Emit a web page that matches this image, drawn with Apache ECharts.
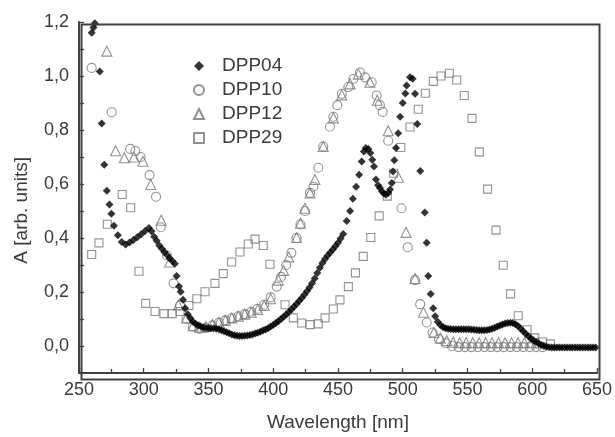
<!DOCTYPE html>
<html>
<head>
<meta charset="utf-8">
<script src="https://cdn.jsdelivr.net/npm/echarts@6/dist/echarts.min.js"></script>
<style>
  html, body { margin: 0; padding: 0; background: #fff; }
  #chart { width: 615px; height: 437px; }
</style>
</head>
<body>
<div id="chart"></div>
<script>
// Absorption spectra, wavelength in nm and absorbance in arbitrary units
const seriesNames = ['DPP04', 'DPP10', 'DPP12', 'DPP29'];

const dpp04Wl = [259.8, 261.2, 262.2, 266, 267.5, 269.5, 271.5, 273.5, 275,
  277, 280, 283, 286, 289, 292, 295, 298, 301, 304, 306, 308, 310, 312, 314, 316, 318, 320, 322, 324,
  325.4, 327.2, 328.5, 330.3,
  332, 334, 336, 338, 340, 342, 344, 346, 348, 350, 352, 354, 356, 358, 360, 362, 364, 366, 368, 370,
  372, 374, 376, 378, 380, 382, 384, 386, 388, 390, 392, 394, 396, 398, 400, 402, 404, 406, 408, 410,
  412, 414, 416, 418, 420, 422, 424, 426, 428, 430, 432, 434, 436, 438, 440, 442, 444, 446, 448, 450,
  452, 454,
  456.7, 459.3, 461.5, 464, 466.3, 468.3, 470, 471.5, 473.4, 475, 476.5, 477.8, 479.3, 481, 482.4, 484,
  485.5, 487, 488.8, 490.2, 491.5, 492.5, 493.5, 494.8, 496.5, 498, 500, 502, 503, 505.6, 507.7, 509.5,
  511.2, 513.5, 517, 518.5, 519.7, 521.6, 523.5,
  525, 527, 529, 531, 533, 535, 537, 539, 541, 543, 545, 547, 549, 551, 553, 555, 557, 559, 561, 563,
  565, 567, 569, 571, 573, 575, 577, 579, 581, 583, 585, 587, 589, 591, 593, 595, 597, 599, 601, 603,
  605, 607, 609, 611, 613, 615, 617, 619, 621, 623, 625, 627, 629, 631, 633, 635, 637, 639, 641, 643,
  645, 647, 649];
const dpp04Abs = [1.16, 1.18, 1.195, 1.017, 0.824, 0.671, 0.575, 0.524, 0.49,
  0.445, 0.41, 0.385, 0.376, 0.383, 0.393, 0.403, 0.414, 0.426, 0.437, 0.425, 0.405, 0.39, 0.372, 0.36, 0.348, 0.337, 0.325, 0.315, 0.305,
  0.259, 0.22, 0.201, 0.171,
  0.14, 0.118, 0.103, 0.09, 0.082, 0.076, 0.072, 0.069, 0.067, 0.066, 0.066, 0.066, 0.064, 0.062, 0.058, 0.055, 0.051, 0.047, 0.043, 0.04,
  0.038, 0.037, 0.037, 0.038, 0.039, 0.041, 0.043, 0.046, 0.049, 0.053, 0.057, 0.061, 0.066, 0.072, 0.078, 0.085, 0.092, 0.1, 0.108, 0.117,
  0.126, 0.135, 0.145, 0.156, 0.167, 0.178, 0.19, 0.203, 0.217, 0.232, 0.25, 0.27, 0.29, 0.307, 0.322, 0.335, 0.346, 0.357, 0.369, 0.382,
  0.398, 0.415,
  0.463, 0.5, 0.545, 0.59, 0.634, 0.683, 0.72, 0.733, 0.73, 0.715, 0.69, 0.665, 0.617, 0.595, 0.585, 0.572,
  0.565, 0.56, 0.567, 0.58, 0.604, 0.646, 0.688, 0.733, 0.788, 0.849, 0.9, 0.935, 0.965, 0.995, 0.99, 0.934,
  0.822, 0.648, 0.494, 0.382, 0.259, 0.193, 0.14,
  0.11, 0.09, 0.078, 0.07, 0.066, 0.064, 0.063, 0.062, 0.062, 0.062, 0.062, 0.062, 0.062, 0.062, 0.061, 0.06, 0.059, 0.058, 0.058, 0.058,
  0.059, 0.061, 0.064, 0.068, 0.072, 0.076, 0.08, 0.083, 0.085, 0.086, 0.085, 0.081, 0.074, 0.065, 0.055, 0.045, 0.036, 0.028, 0.021, 0.015,
  0.009, 0.004, 0.0, -0.003, -0.005, -0.006, -0.006, -0.006, -0.006, -0.006, -0.006, -0.006, -0.006, -0.006, -0.006, -0.006, -0.006, -0.006, -0.006, -0.006,
  -0.006, -0.006, -0.006];

const dpp10Wl = [259.8, 275.2, 289.5, 293.5, 297.6, 304.5, 309.5, 313.1, 318, 323, 328, 333, 338, 343, 348,
  353, 358, 363, 368, 373, 378, 383, 388, 393, 398, 402.7, 406, 410, 414, 418, 421, 424.5, 428.4, 431,
  434.8, 438.6, 443.8, 446.4, 449.5, 452.9, 458, 461.8, 467, 470.9, 476, 479.9, 482.4, 484.5, 488.8,
  499, 503.8, 509.5, 513.5, 518.5, 523, 528, 533, 538, 543, 548, 553, 558, 563, 568, 573, 578, 583,
  588, 593, 598, 603, 608];
const dpp10Abs = [1.03, 0.866, 0.73, 0.722, 0.7, 0.633, 0.553, 0.44, 0.335, 0.232, 0.15, 0.1, 0.072, 0.063, 0.066,
  0.076, 0.086, 0.095, 0.103, 0.11, 0.118, 0.127, 0.138, 0.153, 0.18, 0.22, 0.256, 0.3, 0.345, 0.4, 0.45, 0.5, 0.567, 0.59,
  0.66, 0.739, 0.812, 0.849, 0.892, 0.934, 0.959, 0.989, 1.013, 0.995, 0.977, 0.928, 0.892, 0.867, 0.76,
  0.51, 0.366, 0.244, 0.155, 0.087, 0.05, 0.025, 0.01, 0.0, -0.004, -0.004, -0.004, -0.004, -0.004, -0.004, -0.004, -0.004, -0.004,
  -0.004, -0.004, -0.004, -0.004, -0.004];

const dpp12Wl = [271.5, 278.3, 285, 292.5, 299.4, 305.4, 313.5, 320, 326.7, 333, 338, 343, 348, 353, 358,
  363, 368, 373, 378, 383, 388, 393, 398, 403.9, 408, 412, 418, 421, 424.5, 428.4, 432.2, 438.6, 446.4,
  452.9, 459.3, 465.7, 474.7, 480.3, 488.8, 496.6, 502.5, 509.5, 516, 524, 529, 534, 539, 544, 549, 554,
  559, 564, 569, 574, 579, 584, 589, 594, 599, 604];
const dpp12Abs = [1.092, 0.723, 0.697, 0.7, 0.684, 0.598, 0.466, 0.311, 0.152, 0.104, 0.075, 0.07, 0.072, 0.08, 0.088,
  0.095, 0.104, 0.11, 0.118, 0.125, 0.135, 0.15, 0.175, 0.244, 0.28, 0.33, 0.402, 0.455, 0.51, 0.567, 0.617, 0.739, 0.845,
  0.93, 0.971, 1.007, 0.977, 0.91, 0.797, 0.625, 0.421, 0.25, 0.125, 0.05, 0.03, 0.02, 0.014, 0.012, 0.012, 0.012,
  0.012, 0.012, 0.012, 0.012, 0.012, 0.012, 0.012, 0.012, 0.012, 0.012];

const dpp29Wl = [259.8, 265.4, 271.9, 283.4, 289.9, 296.3, 301.5, 308.7, 315.6, 322, 328, 334.9, 341, 347.3,
  355, 361.4, 367.9, 374.3, 380.7, 385.9, 392.3, 397.5, 409.1, 415.5, 422, 428.4, 434.8, 440, 446.4, 451.5,
  458, 463.5, 469.5, 475.3, 481.8, 488, 493, 498.5, 505.6, 512, 517.5, 523.6, 529.5, 536, 541.7, 547.5,
  553.5, 559.1, 565.5, 572, 577.6, 583.3, 589.2, 596, 602, 608, 614];
const dpp29Abs = [0.339, 0.382, 0.451, 0.561, 0.512, 0.277, 0.158, 0.128, 0.12, 0.12, 0.128, 0.15, 0.175, 0.201,
  0.232, 0.268, 0.311, 0.348, 0.378, 0.396, 0.372, 0.303, 0.153, 0.104, 0.085, 0.079, 0.082, 0.104, 0.137, 0.171,
  0.22, 0.271, 0.332, 0.402, 0.482, 0.555, 0.64, 0.735, 0.811, 0.877, 0.936, 0.98, 1.0, 1.01, 0.985, 0.928,
  0.843, 0.719, 0.581, 0.429, 0.299, 0.193, 0.112, 0.06, 0.03, 0.015, 0.008];

const xRange = [250, 650];
const yRange = [-0.1, 1.2];

const zip = (xs, ys) => xs.map((x, i) => [x, ys[i]]);

const fontFamily = '"Liberation Sans", Arial, sans-serif';
const textColor = '#3a3a3a';
const lineColor = '#404040';
const openColor = '#777';

const W = 615, H = 437;
const gridBox = { left: 79, right: 18, top: 22, bottom: 60 };

const chart = echarts.init(document.getElementById('chart'), null, { renderer: 'canvas', width: W, height: H });

const openStyle = { color: 'rgba(255,255,255,0)', borderColor: openColor, borderWidth: 1.1 };

chart.setOption({
  animation: false,
  backgroundColor: '#fff',
  grid: gridBox,
  legend: {
    data: seriesNames,
    orient: 'vertical',
    left: 188, top: 51,
    itemWidth: 10, itemHeight: 10, itemGap: 4,
    textStyle: { fontFamily, fontSize: 19, color: textColor, lineHeight: 20, padding: [0, 0, 0, 13] },
    selectedMode: false
  },
  xAxis: {
    type: 'value',
    min: xRange[0], max: xRange[1], interval: 50,
    name: 'Wavelength [nm]', nameLocation: 'middle', nameGap: 40,
    nameTextStyle: { fontFamily, fontSize: 19, color: textColor },
    axisLine: { show: true, onZero: false, lineStyle: { color: lineColor, width: 2 } },
    axisTick: { show: true, inside: true, length: 5, lineStyle: { color: lineColor, width: 1.3 } },
    minorTick: { show: true, splitNumber: 2, length: 4, lineStyle: { color: lineColor, width: 1.3 } },
    axisLabel: { fontFamily, fontSize: 18, color: textColor, margin: 8 },
    splitLine: { show: false }
  },
  yAxis: {
    type: 'value',
    min: yRange[0], max: yRange[1], interval: 0.1,
    axisLine: { show: true, onZero: false, lineStyle: { color: lineColor, width: 2 } },
    axisTick: { show: true, inside: true, length: 5, lineStyle: { color: lineColor, width: 1.3 } },
    axisLabel: {
      fontFamily, fontSize: 18, color: textColor, margin: 10,
      formatter: (v) => {
        const k = Math.round(v * 10);
        return (k >= 0 && k % 2 === 0) ? (k / 10).toFixed(1).replace('.', ',') : '';
      }
    },
    splitLine: { show: false }
  },
  graphic: [{
    // plot frame around the grid area
    type: 'rect',
    z: 100,
    silent: true,
    left: gridBox.left,
    top: gridBox.top,
    shape: {
      width: W - gridBox.left - gridBox.right,
      height: H - gridBox.top - gridBox.bottom
    },
    style: { fill: null, stroke: lineColor, lineWidth: 2 }
  }, {
    type: 'text',
    left: 12,
    top: 157,
    rotation: Math.PI / 2,
    style: {
      text: 'A [arb. units]',
      font: '19px ' + fontFamily,
      fill: textColor
    }
  }],
  series: [
    {
      name: 'DPP29', type: 'scatter', z: 2,
      symbol: 'rect', symbolSize: 8,
      itemStyle: openStyle,
      data: zip(dpp29Wl, dpp29Abs)
    },
    {
      name: 'DPP12', type: 'scatter', z: 3,
      symbol: 'triangle', symbolSize: 10,
      itemStyle: openStyle,
      data: zip(dpp12Wl, dpp12Abs)
    },
    {
      name: 'DPP10', type: 'scatter', z: 4,
      symbol: 'circle', symbolSize: 9,
      itemStyle: openStyle,
      data: zip(dpp10Wl, dpp10Abs)
    },
    {
      name: 'DPP04', type: 'scatter', z: 5,
      symbol: 'diamond', symbolSize: 8,
      itemStyle: { color: '#000' },
      data: zip(dpp04Wl, dpp04Abs)
    }
  ]
});
</script>
</body>
</html>
